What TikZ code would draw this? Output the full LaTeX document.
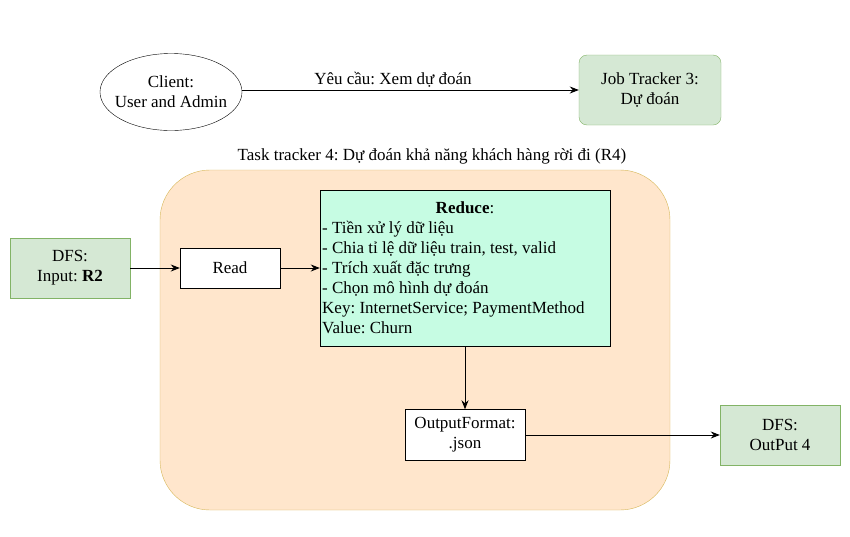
\documentclass[tikz,border=0pt]{standalone}
\usepackage{fontspec}
\setmainfont{Liberation Serif}
\usetikzlibrary{shapes.geometric,arrows.meta}
\definecolor{gfill}{HTML}{D5E8D4}
\definecolor{gdraw}{HTML}{82B366}
\definecolor{pfill}{HTML}{FFE6CC}
\definecolor{pdraw}{HTML}{D6B656}
\definecolor{mfill}{HTML}{C6FCE3}
\frenchspacing
\begin{document}
\begin{tikzpicture}[x=1pt,y=-1pt,
  every node/.style={font=\fontsize{17}{20}\selectfont},
  gbox/.style={draw=gdraw,fill=gfill,minimum width=120pt,minimum height=60pt,align=center,inner sep=0pt},
  wbox/.style={draw=black,fill=white,align=center,inner sep=0pt},
  arr/.style={-{Stealth[length=9pt,width=7pt]},line width=0.9pt}]
\useasboundingbox (0,0) rectangle (850,536);
\draw[pdraw,fill=pfill,rounded corners=50pt] (160,170) rectangle (670,510);
\node[draw,ellipse,minimum width=142pt,minimum height=77pt,inner sep=0pt] (client) at (171,92) {};
\node[align=center,inner sep=0pt] (clienttext) at (client.center) {Client:\\User and Admin};
\node[gbox,rounded corners=8pt,minimum width=142pt,minimum height=70pt] (job) at (650,90) {Job Tracker 3:\\Dự đoán};
\draw[arr] (client.east |- job.west) -- (job.west);
\node[anchor=base] (req) at (393,84) {Yêu cầu: Xem dự đoán};
\node[anchor=base] (title) at (432,160) {Task tracker 4: Dự đoán khả năng khách hàng rời đi (R4)};
\node[gbox] (dfsin) at (70,268) {DFS:\\Input: \textbf{R2}};
\node[wbox,minimum width=100pt,minimum height=40pt] (read) at (230,268) {Read};
\node[draw=black,fill=mfill,minimum width=290pt,minimum height=156pt,inner sep=0pt] (reduce) at (465,268) {};
\node[anchor=base,inner sep=0pt] (rt) at (465,213) {\textbf{Reduce}:};
\node[anchor=base west,align=left,inner sep=0pt] (rl) at (322,333) {- Tiền xử lý dữ liệu\\- Chia tỉ lệ dữ liệu train, test, valid\\- Trích xuất đặc trưng\\- Chọn mô hình dự đoán\\Key: InternetService; PaymentMethod\\Value: Churn};
\node[wbox,minimum width=120pt,minimum height=51pt] (out) at (465,435) {OutputFormat:\\.json};
\node[gbox] (dfsout) at (780,435) {DFS:\\OutPut 4};
\draw[arr] (dfsin) -- (read);
\draw[arr] (read) -- (reduce.west |- read);
\draw[arr] (reduce) -- (out);
\draw[arr] (out) -- (dfsout);
\end{tikzpicture}
\end{document}
